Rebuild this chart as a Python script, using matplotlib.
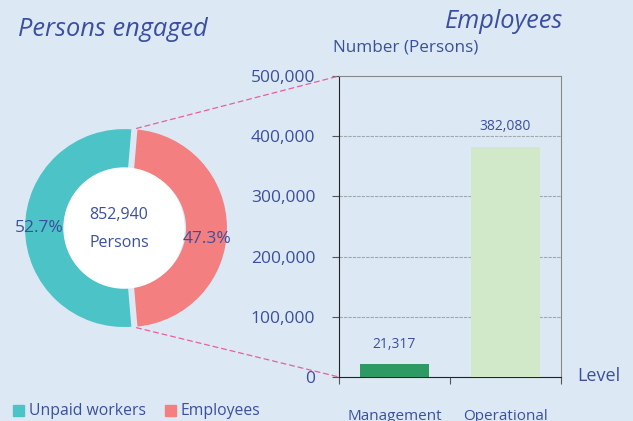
import numpy as np
import matplotlib.pyplot as plt
from matplotlib.patches import Circle, ConnectionPatch, Rectangle

# data
groups = ['Unpaid workers', 'Employees']
persons = [449543, 403397]
total = 852940
levels = ['Management', 'Operational']
employees = [21317, 382080]
yticks = [0, 100000, 200000, 300000, 400000, 500000]

bg = '#dce9f4'
txt = '#3b4fa0'
pie_colors = ['#4cc3c6', '#f47f80']
bar_colors = ['#2e9a63', '#d1e8c9']

plt.rcParams['font.family'] = ['Open Sans', 'DejaVu Sans']

fig = plt.figure(figsize=(6.33, 4.21), dpi=100)
fig.patch.set_facecolor(bg)

# donut
ax1 = fig.add_axes([0.0221, 0.197, 0.3476, 0.5226])
ax1.set_facecolor(bg)
ax1.axis('off')
pct = [p / total * 100 for p in persons]
start = 180 * pct[1] / 100
wedges, _ = ax1.pie(persons, colors=pie_colors, startangle=start,
                    explode=[0, 0.04], radius=1.0,
                    wedgeprops=dict(width=0.43, edgecolor=bg, linewidth=1.5))
ax1.add_patch(Circle((0, 0), 0.6, color='white', zorder=3))
ax1.set_xlim(-1.1, 1.1)
ax1.set_ylim(-1.1, 1.1)
ax1.set_aspect('equal')
ax1.text(-0.85, 0.0, f'{pct[0]:.1f}%', ha='center', va='center', color=txt, fontsize=12.5, zorder=4)
ax1.text(0.83, -0.11, f'{pct[1]:.1f}%', ha='center', va='center', color=txt, fontsize=12.5, zorder=4)
ax1.text(-0.05, 0.13, f'{total:,}', ha='center', va='center', color=txt, fontsize=11.5, zorder=4)
ax1.text(-0.05, -0.15, 'Persons', ha='center', va='center', color=txt, fontsize=11.5, zorder=4)

# bars
ax2 = fig.add_axes([0.5355, 0.1045, 0.3507, 0.715])
ax2.set_facecolor(bg)
x = np.arange(len(levels))
ax2.bar(x, employees, width=0.63, color=bar_colors, zorder=3)
for xi, v in zip(x, employees):
    ax2.text(xi, v + 21000, f'{v:,}', ha='center', va='bottom', color=txt, fontsize=10)
ax2.set_xlim(-0.5, 1.5)
ax2.set_ylim(0, 500000)
ax2.set_yticks(yticks)
ax2.set_yticklabels([f'{t:,}' for t in yticks], color=txt, fontsize=12.5)
ax2.tick_params(axis='y', length=5, pad=12, color='#555555')
ax2.set_xticks([-0.5, 0.5, 1.5])
ax2.set_xticklabels([])
ax2.tick_params(axis='x', length=5, direction='out', color='#555555')
ax2.set_xticks(x, minor=True)
ax2.set_xticklabels(levels, minor=True, color=txt, fontsize=11)
ax2.tick_params(axis='x', which='minor', length=0, pad=23)
for t in yticks[1:-1]:
    ax2.axhline(t, color='#a0a8b0', linestyle=(0, (3, 1)), linewidth=0.8, zorder=1)
ax2.spines['left'].set_color('#222222')
ax2.spines['bottom'].set_color('#222222')
ax2.spines['top'].set_color('#888888')
ax2.spines['right'].set_color('#888888')

# connection lines
for ang, yv in [(wedges[1].theta2, 500000), (wedges[1].theta1, 0)]:
    r = np.deg2rad(ang)
    cx = 0.04 + 1.0 * np.cos(r)
    cy = 1.0 * np.sin(r)
    con = ConnectionPatch(xyA=(cx, cy), coordsA=ax1.transData,
                          xyB=(-0.5, yv), coordsB=ax2.transData,
                          color='#e8609a', linestyle=(0, (4, 3)), linewidth=0.9)
    fig.add_artist(con)

# titles and labels
fig.text(18 / 633, 1 - 30 / 421, 'Persons engaged', style='italic', color=txt,
         fontsize=18.3, ha='left', va='center')
fig.text(563 / 633, 1 - 22 / 421, 'Employees', style='italic', color=txt,
         fontsize=18.3, ha='right', va='center')
fig.text(333 / 633, 1 - 48 / 421, 'Number (Persons)', color=txt, fontsize=12.3,
         ha='left', va='center')
fig.text(577 / 633, 1 - 376 / 421, 'Level', color=txt, fontsize=13,
         ha='left', va='center')

# legend
lx = [13, 165]
for i, g in enumerate(groups):
    fig.add_artist(Rectangle((lx[i] / 633, 1 - 416 / 421), 11 / 633, 11 / 421,
                             transform=fig.transFigure, color=pie_colors[i]))
    fig.text((lx[i] + 16) / 633, 1 - 411 / 421, g, color=txt, fontsize=11.3,
             ha='left', va='center')

fig.savefig('out.png', dpi=100, facecolor=bg)
